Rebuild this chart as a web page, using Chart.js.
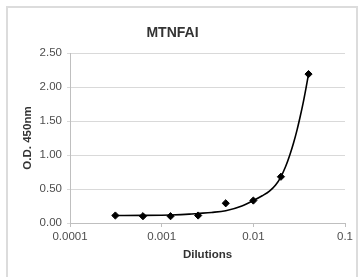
<!DOCTYPE html>
<html>
<head>
<meta charset="utf-8">
<script src="https://cdn.jsdelivr.net/npm/chart.js@4/dist/chart.umd.min.js"></script>
<style>
  html, body { margin: 0; padding: 0; background: #ffffff; overflow: hidden; }
  #frame { position: absolute; left: 6px; top: 6px; width: 352px; height: 290px; border: 2px solid #dcdcdc; box-sizing: border-box; }
  #c { position: absolute; left: 0; top: 0; }
</style>
</head>
<body>
<div id="frame"></div>
<canvas id="c" width="363" height="277"></canvas>
<script>
// Measured points
const dilutions = [0.0003125, 0.000625, 0.00125, 0.0025, 0.005, 0.01, 0.02, 0.04];
const odValues  = [0.11, 0.10, 0.10, 0.11, 0.29, 0.33, 0.68, 2.19];

// Trend line
const trendX = [0.0003125, 0.000625, 0.001, 0.00125, 0.002, 0.0025, 0.0035, 0.005, 0.0075, 0.01, 0.0125, 0.015, 0.0175, 0.02, 0.0225, 0.025, 0.0275, 0.03, 0.0325, 0.035, 0.0375, 0.04];
const trendY = [0.11, 0.112, 0.115, 0.118, 0.13, 0.14, 0.155, 0.18, 0.25, 0.33, 0.40, 0.47, 0.56, 0.68, 0.83, 1.00, 1.18, 1.37, 1.57, 1.77, 1.98, 2.19];

// Tick labels
const xTicks = [0.0001, 0.001, 0.01, 0.1];
const xTickLabels = ['0.0001', '0.001', '0.01', '0.1'];
const yTicks = [0, 0.5, 1.0, 1.5, 2.0, 2.5];

const chartTitle = 'MTNFAI';
const xTitle = 'Dilutions';
const yTitle = 'O.D. 450nm';

const FONT = '"Liberation Sans", Arial, sans-serif';

new Chart(document.getElementById('c'), {
  type: 'scatter',
  data: {
    datasets: [
      {
        type: 'line',
        data: trendX.map((x, i) => ({ x: x, y: trendY[i] })),
        borderColor: '#000000',
        borderWidth: 1.6,
        pointRadius: 0,
        fill: false,
        cubicInterpolationMode: 'monotone',
        order: 2
      },
      {
        type: 'scatter',
        data: dilutions.map((x, i) => ({ x: x, y: odValues[i] })),
        pointStyle: 'rectRot',
        pointRadius: 3.6,
        backgroundColor: '#000000',
        borderColor: '#000000',
        borderWidth: 1,
        order: 1
      }
    ]
  },
  options: {
    responsive: false,
    animation: false,
    devicePixelRatio: 1,
    layout: { padding: { left: 0, right: 18, top: 0, bottom: 0 } },
    plugins: {
      legend: { display: false },
      tooltip: { enabled: false },
      title: {
        display: true,
        text: chartTitle,
        color: '#333333',
        font: { family: FONT, size: 14, weight: 'bold' },
        padding: { top: 25, bottom: 11.2 }
      }
    },
    scales: {
      x: {
        type: 'logarithmic',
        min: 0.0001,
        max: 0.1,
        afterBuildTicks: (s) => { s.ticks = xTicks.map(v => ({ value: v })); },
        afterFit: (s) => { s.height = 54; },
        grid: { drawOnChartArea: false, drawTicks: true, tickLength: 4, color: '#bfbfbf' },
        border: { display: true, color: '#bfbfbf', width: 1 },
        ticks: {
          color: '#4d4d4d',
          font: { family: FONT, size: 11.5 },
          padding: 3,
          maxRotation: 0,
          autoSkip: false,
          callback: (v) => { const i = xTicks.indexOf(v); return i >= 0 ? xTickLabels[i] : ''; }
        },
        title: {
          display: true,
          text: xTitle,
          color: '#333333',
          font: { family: FONT, size: 11.5, weight: 'bold' },
          padding: { top: 0, bottom: 15.5 }
        }
      },
      y: {
        min: 0,
        max: 2.5,
        afterBuildTicks: (s) => { s.ticks = yTicks.map(v => ({ value: v })); },
        afterFit: (s) => { s.width = 70; },
        grid: { color: '#d9d9d9', lineWidth: 1, drawTicks: true, tickLength: 3 },
        border: { display: true, color: '#bfbfbf', width: 1 },
        ticks: {
          color: '#4d4d4d',
          font: { family: FONT, size: 11.5 },
          padding: 5,
          callback: (v) => v.toFixed(2)
        },
        title: {
          display: true,
          text: yTitle,
          color: '#333333',
          font: { family: FONT, size: 11.5, weight: 'bold' },
          padding: { top: 21, bottom: 0 }
        }
      }
    }
  }
});
</script>
</body>
</html>
